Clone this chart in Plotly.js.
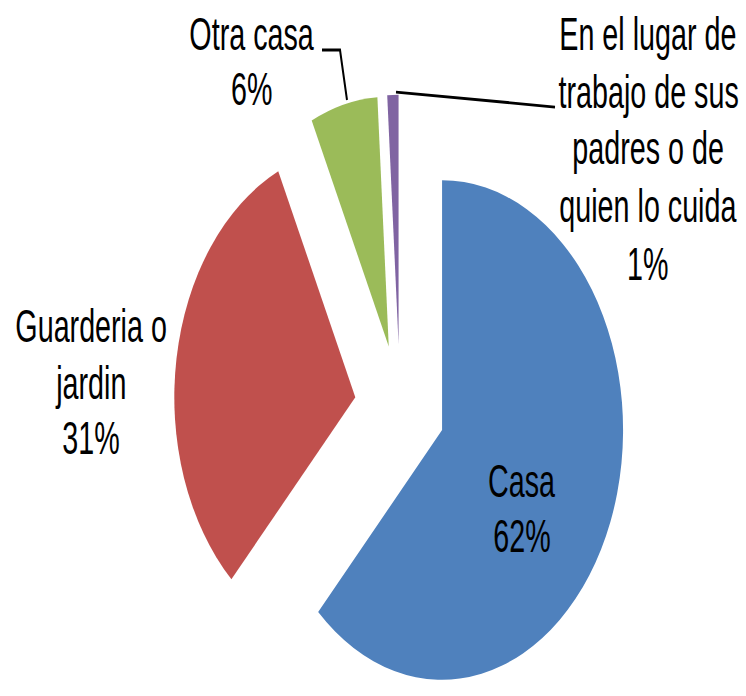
<!DOCTYPE html>
<html>
<head>
<meta charset="utf-8">
<script src="https://cdn.plot.ly/plotly-3.0.1.min.js"></script>
<style>
  html, body { margin: 0; padding: 0; width: 746px; height: 696px; overflow: hidden; background: #fff; }
  #chart { width: 746px; height: 560px; transform: scaleY(1.38); transform-origin: 0 0; }
  #chart text.annotation-text { transform-box: fill-box; transform-origin: center; transform: scaleX(0.87); }
</style>
</head>
<body>
<div id="chart"></div>
<script>
// ---- data ----
const labels = ['Casa', 'Guarderia o<br>jardin', 'Otra casa', 'En el lugar de<br>trabajo de sus<br>padres o de<br>quien lo cuida'];
const values = [62, 31, 6, 1];
const colors = ['#4F81BD', '#C0504D', '#9BBB59', '#8064A2'];

// ---- layout / style constants ----
const W = 746, HU = 560, S = 1.38;      // unstretched plot size, vertical stretch
const pieCx = 400, pieCy = 407 / S;      // pie centre (px, unstretched)
const pull = 0.25, R = 181;
const half = R * (1 + pull);
const FONT = 'Liberation Sans, Arial, sans-serif';
const FS = 33;
// label placement (reference pixel space): centre x, first baseline y, line pitch
const labelPos = [
  {x: 522, y: 497, pitch: 55},
  {x: 91,  y: 343, pitch: 56},
  {x: 252, y: 50,  pitch: 55},
  {x: 648, y: 50,  pitch: 57.5}
];
const px = x => x / W;
const py = y => 1 - (y / S) / HU;

const total = values.reduce((a, b) => a + b, 0);
const annotations = [];
labels.forEach((lab, i) => {
  const lines = lab.split('<br>').concat([Math.round(values[i] / total * 100) + '%']);
  const p = labelPos[i];
  lines.forEach((ln, j) => {
    const base = p.y + j * p.pitch;
    const mid = base - 0.358 * FS * S;
    annotations.push({
      text: ln, xref: 'paper', yref: 'paper', x: px(p.x), y: py(mid),
      xanchor: 'center', yanchor: 'middle', showarrow: false,
      font: {family: FONT, size: FS, color: '#000'}
    });
  });
});

function pathPaper(pts) {
  return pts.map((p, k) => (k ? 'L' : 'M') + px(p[0]).toFixed(5) + ',' + py(p[1]).toFixed(5)).join(' ');
}
const shapes = [
  {type: 'path', xref: 'paper', yref: 'paper', path: pathPaper([[322, 50], [340, 50], [347, 100]]), line: {color: '#000', width: 2}},
  {type: 'path', xref: 'paper', yref: 'paper', path: pathPaper([[396, 92], [555, 107]]), line: {color: '#000', width: 2}}
];

const trace = {
  type: 'pie',
  labels: labels,
  values: values,
  sort: false,
  direction: 'clockwise',
  rotation: 0,
  pull: pull,
  textinfo: 'none',
  hoverinfo: 'label+percent',
  marker: {colors: colors, line: {width: 0}},
  showlegend: false,
  domain: {
    x: [(pieCx - half) / W, (pieCx + half) / W],
    y: [1 - (pieCy + half) / HU, 1 - (pieCy - half) / HU]
  }
};

const layout = {
  width: W, height: HU, autosize: false,
  margin: {l: 0, r: 0, t: 0, b: 0},
  paper_bgcolor: '#fff', plot_bgcolor: '#fff',
  showlegend: false,
  annotations: annotations,
  shapes: shapes
};

Plotly.newPlot('chart', [trace], layout, {displayModeBar: false, staticPlot: true});
</script>
</body>
</html>
